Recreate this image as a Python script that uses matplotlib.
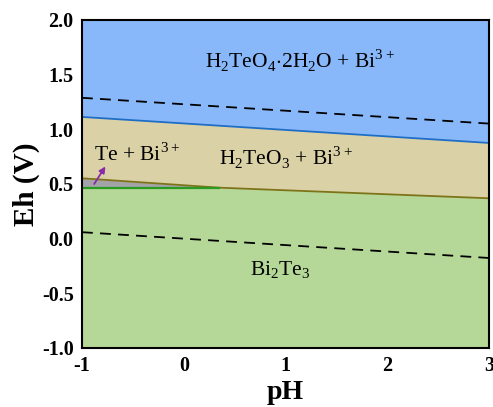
import matplotlib
matplotlib.use("Agg")
import matplotlib.pyplot as plt
import numpy as np

plt.rcParams["font.family"] = ["Liberation Serif", "DejaVu Serif"]
plt.rcParams["mathtext.fontset"] = "custom"
plt.rcParams["mathtext.rm"] = "Liberation Serif"

# pH range
ph_range = [-1, 3]

# water stability lines (dashed)
o2_line = [1.288, 1.052]
h2_line = [0.059, -0.177]

# H2TeO4.2H2O / H2TeO3 boundary
blue_line = [1.113, 0.875]

# H2TeO3 / (Te, Bi2Te3) boundary
olive_ph = [-1, 0.35, 3]
olive_eh = [0.552, 0.466, 0.369]

# Te / Bi2Te3 boundary
green_ph = [-1, 0.35]
green_eh = [0.466, 0.466]

c_blue = "#88b8fa"
c_tan = "#dbd1a6"
c_green = "#b5d899"
c_grey = "#a3a3a8"

fig = plt.figure(figsize=(4.93, 4.07), dpi=100)
ax = fig.add_axes([0.1663, 0.145, 0.8257, 0.806])

ax.set_xlim(-1, 3)
ax.set_ylim(-1, 2)

# stability fields
ax.fill_between(ph_range, blue_line, [2, 2], color=c_blue, lw=0)
ax.fill_between(olive_ph, olive_eh, np.interp(olive_ph, ph_range, blue_line), color=c_tan, lw=0)
ax.fill_between(green_ph, green_eh, np.interp(green_ph, olive_ph, olive_eh), color=c_grey, lw=0)
bottom_ph = [-1, 0.35, 3]
bottom_top = [0.466, 0.466, 0.369]
ax.fill_between(bottom_ph, [-1, -1, -1], bottom_top, color=c_green, lw=0)

# boundaries
ax.plot(ph_range, blue_line, color="#1f6ec4", lw=1.3)
ax.plot(olive_ph, olive_eh, color="#7d7318", lw=1.3)
ax.plot(green_ph, green_eh, color="#2a9a22", lw=1.6)
ax.plot(ph_range, o2_line, color="black", lw=1.3, ls=(0, (6, 4)))
ax.plot(ph_range, h2_line, color="black", lw=1.3, ls=(0, (6, 4)))

# labels
ax.text(1.14, 1.63, r"H$_2$TeO$_4$$\cdot$2H$_2$O + Bi$^{3+}$", fontsize=15.5,
        ha="center", va="center")
ax.text(1.0, 0.74, r"H$_2$TeO$_3$ + Bi$^{3+}$", fontsize=15.5, ha="center", va="center")
ax.text(-0.88, 0.77, r"Te + Bi$^{3+}$", fontsize=15.5, ha="left", va="center")
ax.text(0.95, -0.29, r"Bi$_2$Te$_3$", fontsize=15.5, ha="center", va="center")
ax.annotate("", xy=(-0.77, 0.66), xytext=(-0.88, 0.50),
            arrowprops=dict(arrowstyle="-|>", color="#8a2aa8", lw=1.3,
                            mutation_scale=9, shrinkA=0, shrinkB=0))

ax.set_xticks([-1, 0, 1, 2, 3])
ax.set_yticks([-1.0, -0.5, 0.0, 0.5, 1.0, 1.5, 2.0])
ax.set_yticklabels(["-1.0", "-0.5", "0.0", "0.5", "1.0", "1.5", "2.0"])
ax.set_xticklabels(["-1", "0", "1", "2", "3"])
ax.tick_params(length=0, pad=6, labelsize=14.5)
for lab in ax.get_xticklabels() + ax.get_yticklabels():
    lab.set_fontweight("bold")
for sp in ax.spines.values():
    sp.set_linewidth(1.5)

ax.set_xlabel("pH", fontsize=20, fontweight="bold", labelpad=3)
ax.set_ylabel("Eh (V)", fontsize=21, fontweight="bold", labelpad=1)

fig.savefig("out.png", dpi=100)
